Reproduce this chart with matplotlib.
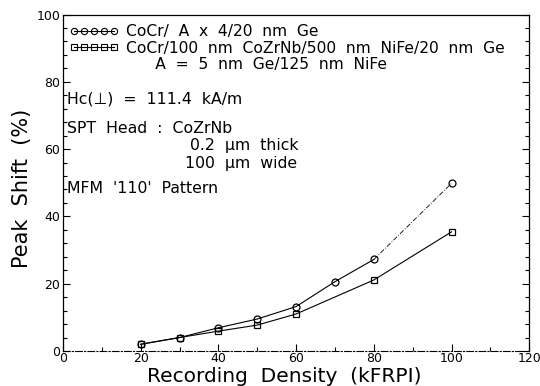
import matplotlib
matplotlib.use("Agg")
import matplotlib.pyplot as plt
from matplotlib.ticker import MultipleLocator
from matplotlib.lines import Line2D

density_circ = [20, 30, 40, 50, 60, 70, 80, 100]
shift_circ = [2.0, 4.0, 6.9, 9.5, 13.2, 20.6, 27.2, 49.8]
density_sq = [20, 30, 40, 50, 60, 80, 100]
shift_sq = [2.0, 4.0, 5.9, 7.7, 11.0, 21.1, 35.4]

label_circ = "CoCr/  A  x  4/20  nm  Ge"
label_sq = "CoCr/100  nm  CoZrNb/500  nm  NiFe/20  nm  Ge"
label_sq2 = "      A  =  5  nm  Ge/125  nm  NiFe"

plt.rcParams['font.family'] = ['DejaVu Sans']
fig = plt.figure(figsize=(5.4, 3.86), dpi=100)
ax = fig.add_axes([0.1167, 0.0907, 0.8633, 0.8717])

lw = 0.8
ms = 5
ax.plot(density_circ[:-1], shift_circ[:-1], color='black', lw=lw, marker='o', ms=ms,
        mfc='none', mew=0.9)
ax.plot(density_circ[-2:], shift_circ[-2:], color='black', lw=0.6, ls=(0, (6, 2, 1, 2)),
        marker='o', ms=ms, mfc='none', mew=0.9, markevery=[1])
ax.plot(density_sq, shift_sq, color='black', lw=lw, marker='s', ms=ms - 0.5,
        mfc='none', mew=0.9)

ax.set_xlim(0, 120)
ax.set_ylim(0, 100)
ax.xaxis.set_major_locator(MultipleLocator(20))
ax.xaxis.set_minor_locator(MultipleLocator(10))
ax.yaxis.set_major_locator(MultipleLocator(20))
ax.yaxis.set_minor_locator(MultipleLocator(4))
ax.tick_params(which='both', direction='in', right=True, top=False, width=0.8,
               labelsize=9, pad=2)
ax.tick_params(axis='x', which='both', pad=1)
ax.tick_params(which='major', length=5)
ax.tick_params(which='minor', length=3)

for s in ['left', 'right', 'top']:
    ax.spines[s].set_linewidth(0.9)
ax.spines['bottom'].set_linestyle((0, (6, 2, 1, 2)))
ax.spines['bottom'].set_linewidth(0.8)

ax.set_xlabel("Recording  Density  (kFRPI)", fontsize=14.5, labelpad=0)
ax.xaxis.set_label_coords(0.475, -0.048, transform=ax.transAxes)
ax.xaxis.label.set_va('top')
ax.set_ylabel("Peak  Shift  (%)", fontsize=15)
ax.yaxis.set_label_coords(-0.066, 0.483, transform=ax.transAxes)

handles = [
    Line2D([], [], color='black', lw=lw, marker='o', ms=4.5, mfc='none', mew=0.8),
    Line2D([], [], color='black', lw=lw, marker='s', ms=4, mfc='none', mew=0.8),
    Line2D([], [], ls='none'),
]
leg = ax.legend(handles, [label_circ, label_sq, label_sq2], loc='upper left',
                frameon=False, numpoints=5, handlelength=3.2, handletextpad=0.45,
                fontsize=11.2, borderaxespad=0.0, labelspacing=0.1,
                bbox_to_anchor=(0.0, 0.99))

fs = 11.3
ax.text(1.0, 75, "Hc(⊥)  =  111.4  kA/m", fontsize=fs, va='center')
ax.text(1.0, 66.2, "SPT  Head  :  CoZrNb", fontsize=fs, va='center')
ax.text(32.8, 61.1, "0.2  μm  thick", fontsize=fs, va='center')
ax.text(31.4, 55.8, "100  μm  wide", fontsize=fs, va='center')
ax.text(1.0, 48.4, "MFM  '110'  Pattern", fontsize=fs, va='center')

fig.savefig("out.png", dpi=100)
